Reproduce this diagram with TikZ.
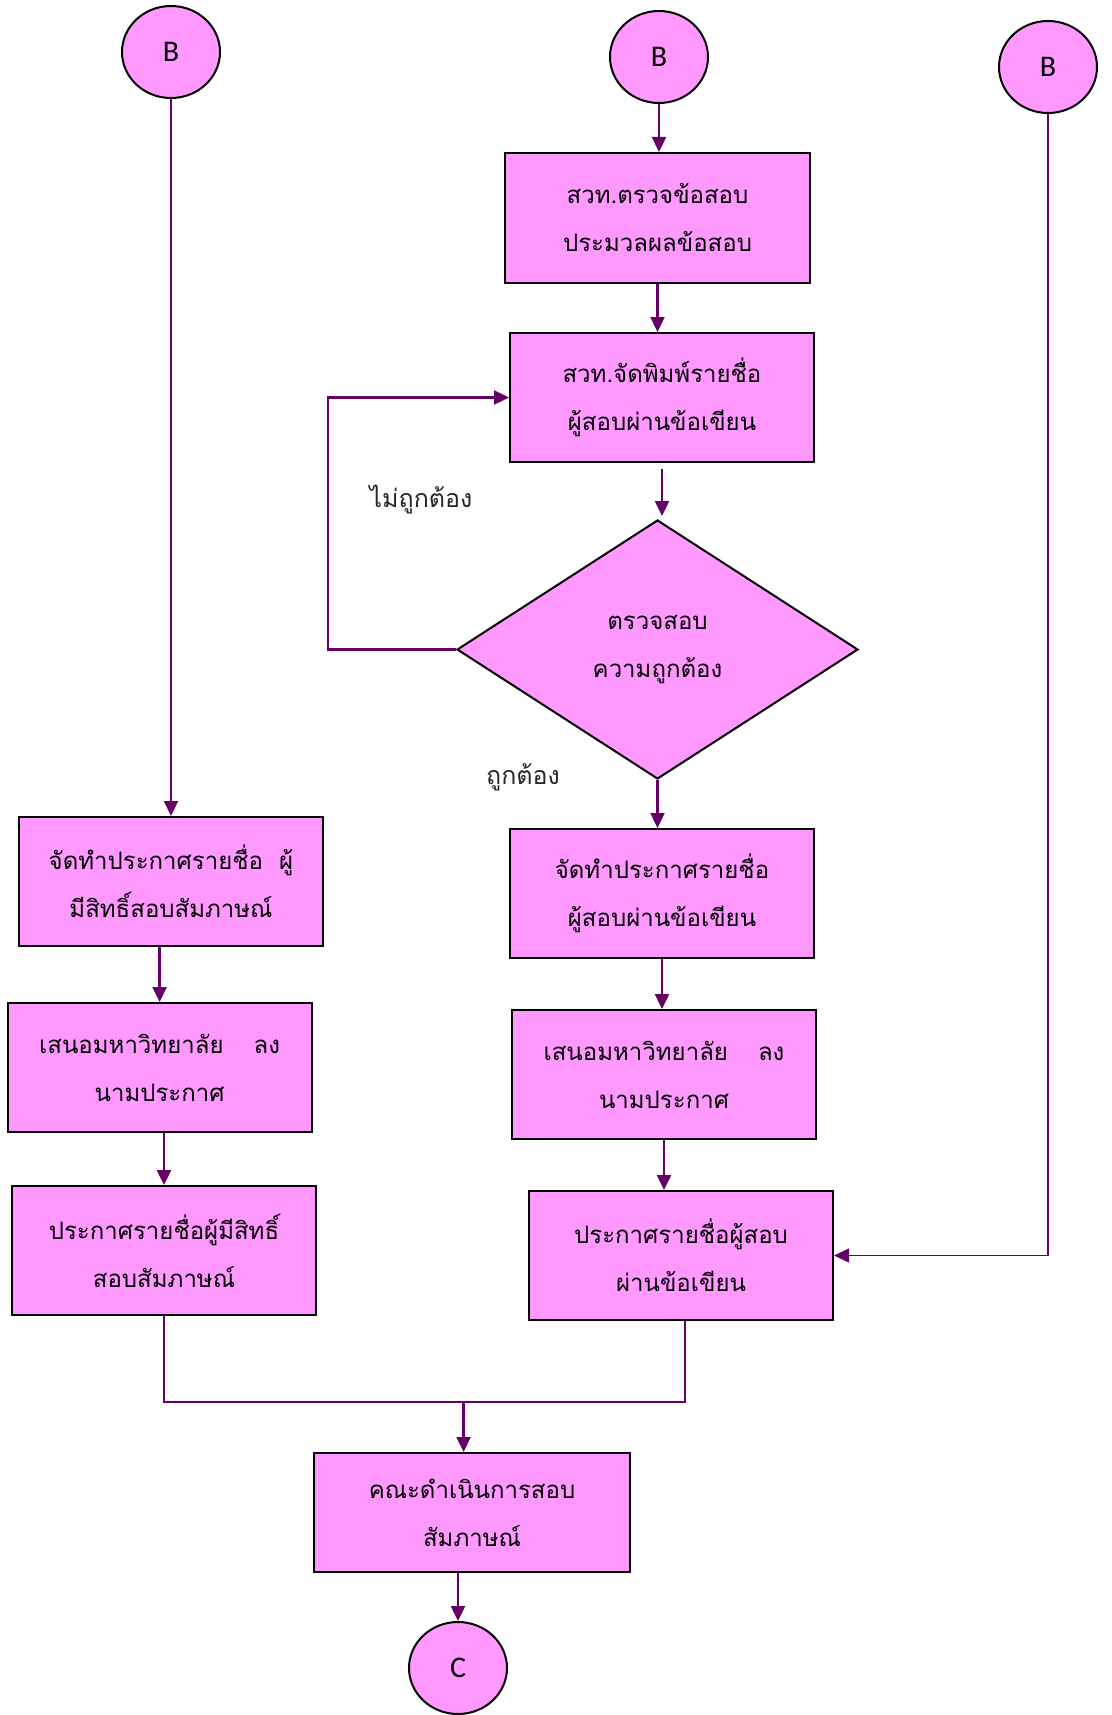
\documentclass[tikz,border=0pt]{standalone}
\usepackage{fontspec}
\usepackage{xcolor}
\usepackage{tikz}
\usetikzlibrary{shapes,arrows.meta,positioning}
\newfontfamily\thaifont[Script=Thai]{Loma}
\newfontfamily\latinfont{Carlito}
\definecolor{boxpink}{HTML}{FF99FF}
\definecolor{linkpurple}{HTML}{660066}
\newcommand{\entrylabel}[1]{{\latinfont\fontsize{30}{34}\selectfont #1}}
\tikzset{
  % process box
  procbox/.style={rectangle,draw=black,fill=boxpink,line width=2pt,
    minimum width=304pt,minimum height=129pt,align=center,
    font=\thaifont\fontsize{24}{48}\selectfont},
  % connector circle (B, C)
  connector/.style={ellipse,draw=black,fill=boxpink,line width=2pt,
    minimum width=98pt,minimum height=92pt,inner sep=0pt},
  % decision
  decision/.style={diamond,draw=black,fill=boxpink,line width=2pt,
    minimum width=401pt,minimum height=259pt,inner sep=0pt,align=center,
    font=\thaifont\fontsize{24}{48}\selectfont},
  link/.style={draw=linkpurple,line width=1.5pt},
  flow/.style={link,line width=2.4pt,-{Triangle[length=15pt,width=14pt]}},
  note/.style={font=\thaifont\fontsize{25}{30}\selectfont,text=black!85}
}
\begin{document}
\begin{tikzpicture}[x=1pt,y=-1pt]
  \useasboundingbox (0,0) rectangle (1111,1715);
  % the three entries
  \node[connector] (b1) at (171,52) {\entrylabel{B}};
  \node[connector] (b2) at (659,57) {\entrylabel{B}};
  \node[connector] (b3) at (1048,67) {\entrylabel{B}};
  % middle column
  \node[procbox,minimum width=305pt,minimum height=130pt] (check) at (657.5,218)
    {สวท.ตรวจข้อสอบ\\ประมวลผลข้อสอบ};
  \node[procbox] (print) at (662,397.5)
    {สวท.จัดพิมพ์รายชื่อ\\ผู้สอบผ่านข้อเขียน};
  \node[decision] (verify) at (657.5,649.5) {ตรวจสอบ\\ความถูกต้อง};
  \node[procbox] (makelist) at (662,893.5)
    {จัดทำประกาศรายชื่อ\\ผู้สอบผ่านข้อเขียน};
  \node[procbox] (propose) at (664,1074.5)
    {เสนอมหาวิทยาลัย\hspace{30pt}ลง\\นามประกาศ};
  \node[procbox] (announce) at (681,1255.5)
    {ประกาศรายชื่อผู้สอบ\\ผ่านข้อเขียน};
  % left column
  \node[procbox] (lmake) at (171,881.5)
    {จัดทำประกาศรายชื่อ~~ผู้\\มีสิทธิ์สอบสัมภาษณ์};
  \node[procbox] (lpropose) at (159.6,1067.5)
    {เสนอมหาวิทยาลัย\hspace{30pt}ลง\\นามประกาศ};
  \node[procbox] (lannounce) at (164,1250.5)
    {ประกาศรายชื่อผู้มีสิทธิ์\\สอบสัมภาษณ์};
  % end
  \node[procbox,minimum width=316pt,minimum height=119pt] (committee) at (472,1512.5)
    {คณะดำเนินการสอบ\\สัมภาษณ์};
  \node[connector] (c) at (458,1668) {\entrylabel{C}};
  % labels
  \node[note] (wrong) at (421,500) {ไม่ถูกต้อง};
  \node[note] (right) at (523,777) {ถูกต้อง};
  \coordinate (merge) at (463.6,1402);

  % connectors
  \draw[flow,line width=1.8pt] (b1) -- (b1 |- lmake.north);
  \draw[flow] (b2) -- (b2 |- check.north);
  \draw[flow] (check) -- (check |- print.north);
  \draw[flow,shorten <=6pt,shorten >=3pt] (print) -- (print |- verify.north);
  \draw[flow] (verify.south) -- (verify.south |- makelist.north);
  \draw[flow] (makelist) -- (makelist |- propose.north);
  \draw[flow] (propose) -- (propose |- announce.north);
  \draw[flow] (verify.west) -- ++(-128,0) |- (print.west);
  \draw[flow] (lpropose |- lmake.south) -- (lpropose.north);
  \draw[flow] (lannounce |- lpropose.south) -- (lannounce.north);
  \draw[flow,line width=1.5pt] (b3) |- (announce.east);
  \draw[link] (lannounce.south) |- (merge) -| ([xshift=4pt]announce.south);
  \draw[flow] (merge) -- (merge |- committee.north);
  \draw[flow] (c |- committee.south) -- (c);
\end{tikzpicture}
\end{document}
